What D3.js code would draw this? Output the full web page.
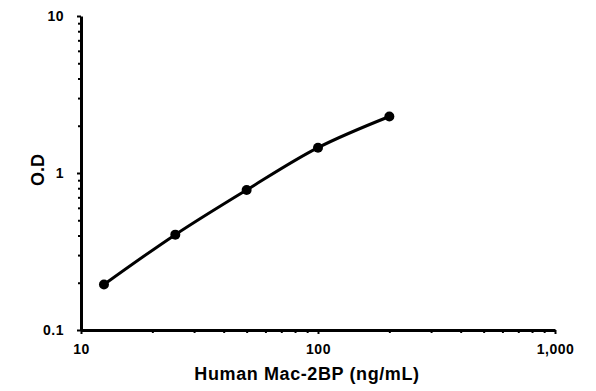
<!DOCTYPE html>
<html><head><meta charset="utf-8">
<script src="https://cdn.jsdelivr.net/npm/d3@7"></script>
<style>body{margin:0;background:#fff}svg{display:block}</style>
</head><body>
<script>
const concentrations = [12.5, 25, 50, 100, 200];
const odValues = [0.195, 0.405, 0.78, 1.45, 2.29];
const xTickValues = [10, 100, 1000];
const xTickLabels = ["10", "100", "1,000"];
const yTickValues = [0.1, 1, 10];
const yTickLabels = ["0.1", "1", "10"];
const xTitle = "Human Mac-2BP (ng/mL)";
const yTitle = "O.D";

const W = 596, H = 391;
const svg = d3.select("body").append("svg").attr("width", W).attr("height", H);
const x = d3.scaleLog().domain([10, 1000]).range([81, 555]);
const y = d3.scaleLog().domain([0.1, 10]).range([330, 16]);

const minorX = [];
for (let d = 10; d < 1000; d *= 10) for (let k = 2; k <= 9; k++) minorX.push(d * k);
const minorY = [];
for (let d = 0.1; d < 10; d *= 10) for (let k = 2; k <= 9; k++) minorY.push(+(d * k).toPrecision(3));

const font = "'Liberation Sans', Arial, sans-serif";

// minor ticks
svg.append("g").attr("transform", "translate(0,330)")
  .call(d3.axisBottom(x).tickValues(minorX).tickFormat("").tickSize(3).tickSizeOuter(0))
  .call(g => { g.select(".domain").remove(); g.selectAll("line").attr("stroke", "#000").attr("stroke-width", 2); });
svg.append("g").attr("transform", "translate(81,0)")
  .call(d3.axisLeft(y).tickValues(minorY).tickFormat("").tickSize(3).tickSizeOuter(0))
  .call(g => { g.select(".domain").remove(); g.selectAll("line").attr("stroke", "#000").attr("stroke-width", 2); });

// major axes
const xAxis = svg.append("g").attr("transform", "translate(0,330)")
  .call(d3.axisBottom(x).tickValues(xTickValues).tickFormat((d, i) => xTickLabels[i]).tickSize(4).tickSizeOuter(0).tickPadding(10));
const yAxis = svg.append("g").attr("transform", "translate(81,0)")
  .call(d3.axisLeft(y).tickValues(yTickValues).tickFormat((d, i) => yTickLabels[i]).tickSize(4).tickSizeOuter(0).tickPadding(13));
[xAxis, yAxis].forEach(g => {
  g.select(".domain").attr("stroke", "#000").attr("stroke-width", 3);
  g.selectAll(".tick line").attr("stroke", "#000").attr("stroke-width", 2);
  g.selectAll(".tick text").attr("fill", "#000").style("font-family", font)
    .style("font-size", "14px").style("font-weight", "bold").style("letter-spacing", "0.5px");
});

// line
const line = d3.line().x(d => x(d[0])).y(d => y(d[1])).curve(d3.curveCatmullRom.alpha(0.5));
const pts = concentrations.map((c, i) => [c, odValues[i]]);
svg.append("path").datum(pts).attr("d", line).attr("fill", "none")
  .attr("stroke", "#000").attr("stroke-width", 3);
svg.selectAll("circle.pt").data(pts).enter().append("circle")
  .attr("cx", d => x(d[0])).attr("cy", d => y(d[1])).attr("r", 5).attr("fill", "#000");

// titles
svg.append("text").attr("x", 307).attr("y", 380).attr("text-anchor", "middle")
  .style("font-family", font).style("font-size", "18px").style("font-weight", "bold")
  .style("letter-spacing", "0.6px").text(xTitle);
svg.append("text").attr("transform", "translate(44,170) rotate(-90)").attr("text-anchor", "middle")
  .style("font-family", font).style("font-size", "18px").style("font-weight", "bold").text(yTitle);
</script>
</body></html>
